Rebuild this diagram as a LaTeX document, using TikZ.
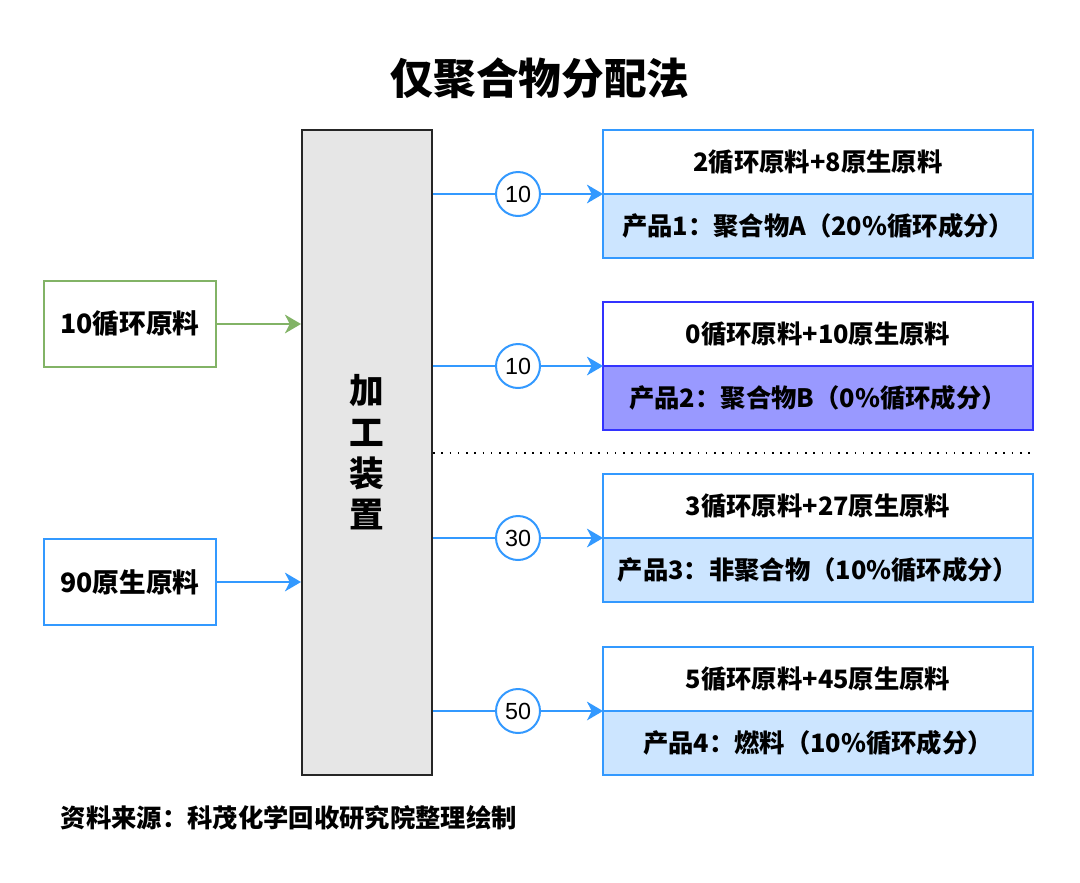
\documentclass[tikz,border=0pt]{standalone}
\usepackage{fontspec}
\setmainfont{Liberation Sans}
\newfontfamily\cjk{Noto Sans CJK SC}
\usetikzlibrary{positioning, arrows.meta}
\definecolor{lineblue}{HTML}{3399FF}
\definecolor{fillblue}{HTML}{CCE5FF}
\definecolor{linegreen}{HTML}{82B366}
\definecolor{linepurple}{HTML}{3333FF}
\definecolor{fillpurple}{HTML}{9999FF}
\definecolor{procfill}{HTML}{E6E6E6}
\tikzset{
        x=0.75pt, y=-0.75pt, % one unit is one pixel of the reference
        title/.style={font=\cjk\bfseries\fontsize{32}{36}\selectfont},
        proc/.style={draw=black!85, line width=1.5pt, fill=procfill, minimum width=97.5pt, minimum height=483.75pt, align=center, font=\cjk\bfseries\fontsize{26}{31}\selectfont},
        inbox/.style={line width=1.5pt, fill=white, minimum width=129pt, minimum height=64.5pt, font=\cjk\bfseries\fontsize{20}{24}\selectfont},
        outtop/.style={draw=lineblue, line width=1.5pt, fill=white, outer sep=0pt, minimum width=322.5pt, minimum height=48pt, font=\cjk\bfseries\fontsize{19}{22}\selectfont},
        outbot/.style={outtop, fill=fillblue, below=0pt of #1},
        arrow/.style={line width=1.5pt, -{Stealth[length=12pt, width=14pt, inset=3.5pt]}},
        num/.style={circle, draw=lineblue, line width=1.5pt, fill=white, minimum size=33pt, inner sep=0pt, text=black, font=\fontsize{17.5}{20}\selectfont},
        }
\begin{document}
\begin{tikzpicture}
        \useasboundingbox (0,0) rectangle (1080,882);
        % title and processing unit
        \node[title] (title) at (540,78) {仅聚合物分配法};
        \node[proc] (proc) at (367,452.5) {加\\工\\装\\置};

        % inputs
        \node[inbox, draw=linegreen] (recycled) at (130,324) {10循环原料};
        \node[inbox, draw=lineblue] (virgin) at (130,582) {90原生原料};
        \draw[arrow, linegreen] (recycled) -- (recycled -| proc.west);
        \draw[arrow, lineblue] (virgin) -- (virgin -| proc.west);

        % products
        \node[outtop] (mix1) at (818,162) {2循环原料+8原生原料};
        \node[outbot=mix1] (prod1) {产品1：聚合物A（20\%循环成分）};
        \node[outtop, draw=linepurple] (mix2) at (818,334) {0循环原料+10原生原料};
        \node[outbot=mix2, draw=linepurple, fill=fillpurple] (prod2) {产品2：聚合物B（0\%循环成分）};
        \node[outtop] (mix3) at (818,506) {3循环原料+27原生原料};
        \node[outbot=mix3] (prod3) {产品3：非聚合物（10\%循环成分）};
        \node[outtop] (mix4) at (818,679) {5循环原料+45原生原料};
        \node[outbot=mix4] (prod4) {产品4：燃料（10\%循环成分）};

        \draw[arrow, lineblue] (proc.east |- mix1.south west) -- (mix1.south west) node[num, pos=0.5] {10};
        \draw[arrow, lineblue] (proc.east |- mix2.south west) -- (mix2.south west) node[num, pos=0.5] {10};
        \draw[arrow, lineblue] (proc.east |- mix3.south west) -- (mix3.south west) node[num, pos=0.5] {30};
        \draw[arrow, lineblue] (proc.east |- mix4.south west) -- (mix4.south west) node[num, pos=0.5] {50};

        % polymer / non-polymer separator
        \coordinate (sepend) at (1030,453);
        \draw[line width=1.2pt, dash pattern=on 1.2pt off 5pt] (proc.east |- sepend) -- (sepend);

        % source
        \node[anchor=west, font=\cjk\bfseries\fontsize{19}{22}\selectfont] (source) at (56,818) {资料来源：科茂化学回收研究院整理绘制};
\end{tikzpicture}
\end{document}
